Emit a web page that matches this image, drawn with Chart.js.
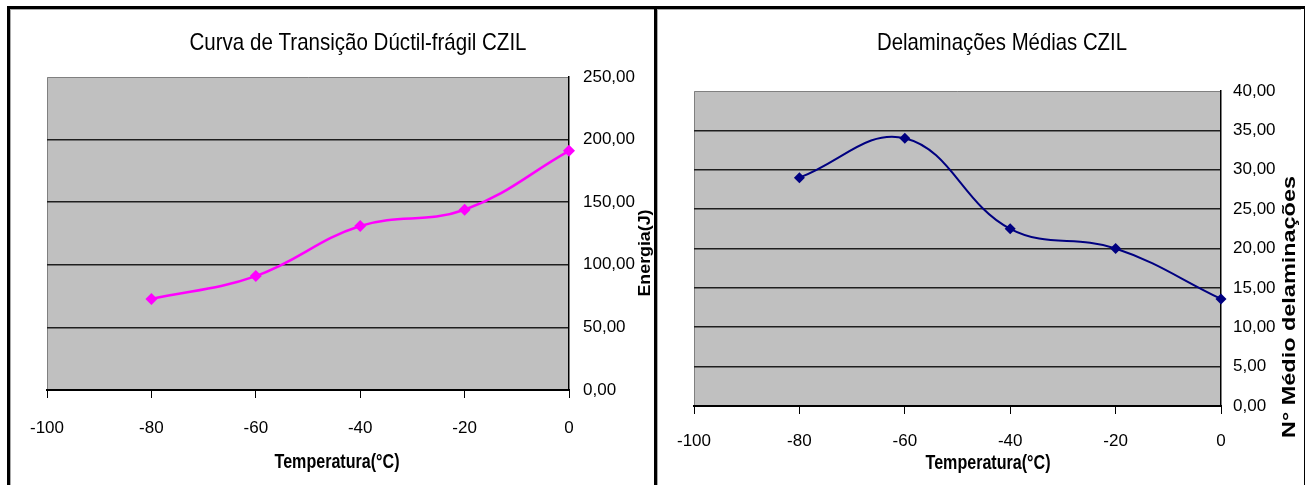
<!DOCTYPE html>
<html>
<head>
<meta charset="utf-8">
<script src="https://cdn.jsdelivr.net/npm/chart.js@4.4.0/dist/chart.umd.min.js"></script>
<style>
  body { margin: 0; background: #fff; width: 1305px; height: 485px; overflow: hidden; position: relative; }
  .frame { position: absolute; left: 7px; top: 6px; width: 1294px; height: 500px;
           border-top: 3px solid #000; border-left: 3px solid #000; border-right: 2px solid #000; }
  .divider { position: absolute; left: 654px; top: 6px; width: 3px; height: 490px; background: #000; }
  .panel { position: absolute; top: 9px; height: 476px; border-top: 1px solid #aaa; border-left: 1px solid #aaa; box-sizing: border-box; }
  canvas { position: absolute; }
</style>
</head>
<body>
<div class="frame"></div>
<div class="divider"></div>
<div class="panel" style="left:10px;width:644px"></div>
<div class="panel" style="left:657px;width:644px"></div>
<canvas id="energyChart" style="left:10px;top:10px" width="644" height="475"></canvas>
<canvas id="delamChart" style="left:660px;top:10px" width="641" height="475"></canvas>
<script>
const temperatures = [-80, -60, -40, -20, 0];
const energy = [72.7, 91, 131, 144, 191];
const delaminations = [29, 34, 22.5, 20, 13.6];
const xTickRange = { min: -100, max: 0, step: 20 };

const sans = '"Liberation Sans", Arial, sans-serif';

const plotBg = {
  id: 'plotBg',
  beforeDraw(chart) {
    const { ctx, chartArea: a } = chart;
    ctx.save();
    ctx.fillStyle = '#c0c0c0';
    ctx.fillRect(a.left, a.top, a.right - a.left, a.bottom - a.top);
    ctx.strokeStyle = '#808080';
    ctx.lineWidth = 1;
    ctx.beginPath();
    ctx.moveTo(a.left + 0.5, a.bottom);
    ctx.lineTo(a.left + 0.5, a.top + 0.5);
    ctx.lineTo(a.right, a.top + 0.5);
    ctx.stroke();
    ctx.restore();
  }
};

// titles, squeezed to the narrow look of the original
const texts = {
  id: 'texts',
  afterDraw(chart, args, opts) {
    const ctx = chart.ctx;
    (opts.items || []).forEach(t => {
      ctx.save();
      ctx.font = t.font;
      const w = ctx.measureText(t.text).width;
      ctx.translate(t.x, t.y);
      if (t.rotate) ctx.rotate(t.rotate);
      ctx.scale(t.width / w, 1);
      ctx.fillStyle = '#000';
      ctx.textAlign = 'center';
      ctx.textBaseline = 'middle';
      ctx.fillText(t.text, 0, 0);
      ctx.restore();
    });
  }
};

function makeChart(id, values, color, yMax, yStep, cfg) {
  const points = temperatures.map((t, i) => ({ x: t, y: values[i] }));
  return new Chart(document.getElementById(id), {
    type: 'line',
    data: {
      datasets: [{
        data: points,
        borderColor: color,
        backgroundColor: color,
        borderWidth: cfg.lineWidth,
        tension: 0.4,
        pointStyle: 'rectRot',
        pointRadius: cfg.pointRadius,
        pointBorderWidth: 0,
        clip: false
      }]
    },
    options: {
      responsive: false,
      animation: false,
      layout: { padding: { top: cfg.top, left: cfg.left, right: 0, bottom: 0 } },
      plugins: {
        legend: { display: false },
        tooltip: { enabled: false },
        texts: { items: cfg.texts }
      },
      scales: {
        x: {
          type: 'linear',
          min: xTickRange.min, max: xTickRange.max,
          afterFit(s) { s.height = cfg.xHeight; },
          ticks: { stepSize: xTickRange.step, color: '#000', padding: cfg.xPad,
                   font: { family: sans, size: 17 }, callback: v => String(v) },
          grid: { drawOnChartArea: false, drawTicks: true, tickLength: 8, color: '#000', lineWidth: 1 },
          border: { display: true, color: '#000', width: 2 }
        },
        y: {
          position: 'right',
          min: 0, max: yMax,
          afterFit(s) { s.width = cfg.yWidth; },
          ticks: { stepSize: yStep, color: '#000', padding: cfg.yPad,
                   font: { family: sans, size: 17 },
                   callback: v => v.toFixed(2).replace('.', ',') },
          grid: { drawTicks: false, lineWidth: 1.6,
                  color: c => (c.tick && c.tick.value === yMax) || c.index === 0 ? 'rgba(0,0,0,0)' : '#1e1e1e' },
          border: { display: true, color: '#000', width: 1.5 }
        }
      }
    },
    plugins: [plotBg, texts]
  });
}

makeChart('energyChart', energy, '#ff00ff', 250, 50, {
  top: 67, left: 32, xHeight: 95, yWidth: 85, xPad: 20, yPad: 14,
  lineWidth: 2.5, pointRadius: 6,
  texts: [
    { text: 'Curva de Transição Dúctil-frágil CZIL', x: 348, y: 33, width: 337, font: '24px ' + sans },
    { text: 'Temperatura(°C)', x: 327, y: 452, width: 125, font: 'bold 21px ' + sans },
    { text: 'Energia(J)', x: 635, y: 243, width: 87, rotate: -Math.PI / 2, font: 'bold 17px ' + sans }
  ]
});

makeChart('delamChart', delaminations, '#000080', 40, 5, {
  top: 81, left: 28, xHeight: 79, yWidth: 80, xPad: 17, yPad: 12,
  lineWidth: 2, pointRadius: 5.5,
  texts: [
    { text: 'Delaminações Médias CZIL', x: 342, y: 33, width: 250, font: '24px ' + sans },
    { text: 'Temperatura(°C)', x: 328, y: 453, width: 125, font: 'bold 21px ' + sans },
    { text: 'N° Médio delaminações', x: 630, y: 297, width: 262, rotate: -Math.PI / 2, font: 'bold 18px ' + sans }
  ]
});
</script>
</body>
</html>
